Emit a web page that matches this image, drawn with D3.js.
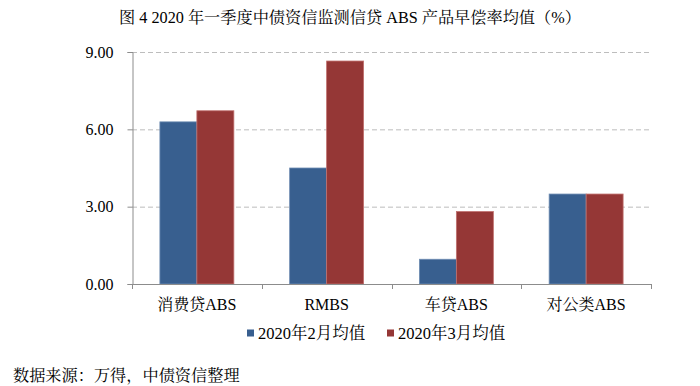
<!DOCTYPE html>
<html>
<head>
<meta charset="utf-8">
<script src="https://cdn.jsdelivr.net/npm/d3@7"></script>
<style>
  body { margin: 0; background: #fff; }
  svg text { font-family: "Liberation Serif", "Times New Roman", "Noto Serif CJK SC", "Noto Sans CJK SC", serif; fill: #000; }
</style>
</head>
<body>
<svg width="700" height="386"></svg>
<script>
const svg = d3.select("svg");

// data
const categories = ["消费贷ABS", "RMBS", "车贷ABS", "对公类ABS"];
const seriesNames = ["2020年2月均值", "2020年3月均值"];
const feb = [6.29, 4.50, 0.96, 3.49];
const mar = [6.72, 8.65, 2.81, 3.49];
const yTicks = [0, 3, 6, 9];
const colors = ["#385F8F", "#953736"];
const strokes = ["#6F8DB3", "#C0706E"];

const plot = { left: 132, right: 651, top: 52, bottom: 284 };

const x = d3.scaleBand()
    .domain(categories)
    .range([plot.left, plot.right])
    .paddingInner(0.43)
    .paddingOuter(0.215);

const x1 = d3.scaleBand()
    .domain([0, 1])
    .range([0, x.bandwidth()]);

const y = d3.scaleLinear()
    .domain([0, 9])
    .range([plot.bottom, plot.top]);

/* title */
svg.append("text")
    .attr("x", 350)
    .attr("y", 23)
    .attr("text-anchor", "middle")
    .attr("font-size", 16.2)
    .text("图  4 2020 年一季度中债资信监测信贷 ABS 产品早偿率均值（%）");

/* gridlines */
svg.append("g")
    .selectAll("line")
    .data(yTicks.filter(d => d > 0))
    .join("line")
    .attr("x1", plot.left)
    .attr("x2", plot.right)
    .attr("y1", d => y(d) + 0.5)
    .attr("y2", d => y(d) + 0.5)
    .attr("stroke", "#bdbdbd")
    .attr("stroke-dasharray", "5,3");

/* bars */
const rows = categories.map((c, i) => ({ cat: c, vals: [feb[i], mar[i]] }));

const groups = svg.append("g")
    .selectAll("g")
    .data(rows)
    .join("g")
    .attr("transform", d => `translate(${x(d.cat)},0)`);

groups.selectAll("rect")
    .data(d => d.vals.map((v, k) => ({ v, k })))
    .join("rect")
    .attr("x", d => x1(d.k))
    .attr("y", d => y(d.v))
    .attr("width", x1.bandwidth())
    .attr("height", d => y(0) - y(d.v))
    .attr("fill", d => colors[d.k])
    .attr("stroke", d => strokes[d.k])
    .attr("stroke-width", 0.8);

/* y axis */
const yAxis = svg.append("g")
    .attr("transform", `translate(${plot.left + 0.5},0)`)
    .call(d3.axisLeft(y).tickValues(yTicks).tickFormat(d3.format(".2f")).tickSize(5).tickPadding(14));
yAxis.select(".domain").attr("stroke", "#8c8c8c");
yAxis.selectAll(".tick line").attr("stroke", "#8c8c8c");
yAxis.selectAll("text")
    .style("font-family", "'Liberation Serif', 'Times New Roman', serif")
    .style("font-size", "16px")
    .attr("fill", "#000");

/* x axis */
const xEdges = d3.range(categories.length + 1).map(i => plot.left + i * x.step());
const xAxis = svg.append("g");
xAxis.append("line")
    .attr("x1", plot.left)
    .attr("x2", plot.right + 1)
    .attr("y1", plot.bottom + 0.5)
    .attr("y2", plot.bottom + 0.5)
    .attr("stroke", "#8c8c8c");
xAxis.selectAll(".edge")
    .data(xEdges)
    .join("line")
    .attr("class", "edge")
    .attr("x1", d => Math.round(d) + 0.5)
    .attr("x2", d => Math.round(d) + 0.5)
    .attr("y1", plot.bottom)
    .attr("y2", plot.bottom + 5)
    .attr("stroke", "#8c8c8c");
xAxis.selectAll("text")
    .data(categories)
    .join("text")
    .attr("x", d => x(d) + x.bandwidth() / 2)
    .attr("y", 310)
    .attr("text-anchor", "middle")
    .attr("font-size", 16)
    .text(d => d);

/* legend */
const legendX = [247, 387];
const legend = svg.append("g")
    .selectAll("g")
    .data(seriesNames)
    .join("g")
    .attr("transform", (d, i) => `translate(${legendX[i]},333)`);
legend.append("rect")
    .attr("x", 0)
    .attr("y", -3.5)
    .attr("width", 7)
    .attr("height", 7)
    .attr("fill", (d, i) => colors[i]);
legend.append("text")
    .attr("x", 11)
    .attr("y", 6)
    .attr("font-size", 16.5)
    .text(d => d);

/* source */
svg.append("text")
    .attr("x", 13)
    .attr("y", 381)
    .attr("font-size", 16.2)
    .text("数据来源：万得，中债资信整理");
</script>
</body>
</html>
